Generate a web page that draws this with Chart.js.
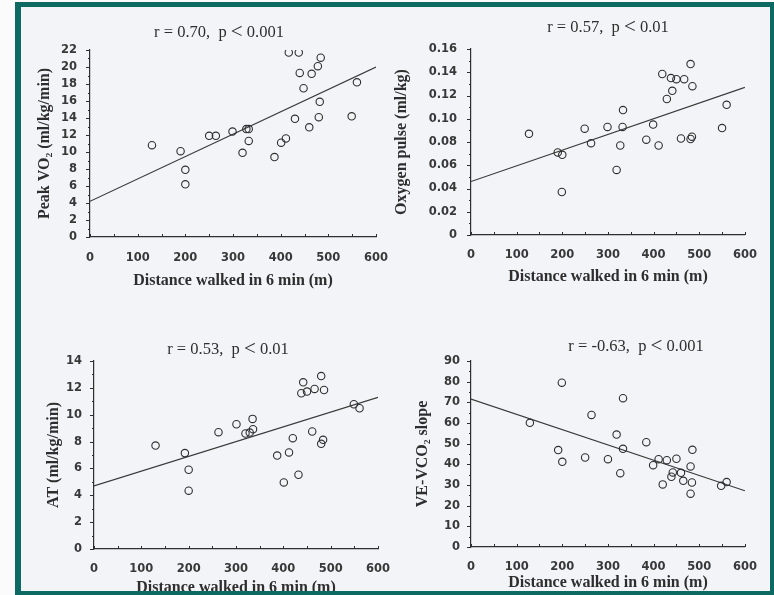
<!DOCTYPE html>
<html>
<head>
<meta charset="utf-8">
<script src="https://cdn.jsdelivr.net/npm/chart.js@4.4.1/dist/chart.umd.min.js"></script>
<style>
html, body { margin: 0; padding: 0; width: 774px; height: 595px; overflow: hidden; background: #fbfbfb; }
#bg { position: absolute; left: 15px; top: 2px; width: 759px; height: 593px; background: #f3f4f8; }
#frame { position: absolute; left: 15px; top: 2px; width: 759px; height: 593px; box-sizing: border-box;
  border: solid #0d6a62; border-width: 5px 4px 4px 6px; z-index: 5; pointer-events: none; }
canvas { position: absolute; z-index: 2; }
</style>
</head>
<body>
<div id="bg"></div>
<canvas id="c1"></canvas>
<canvas id="c2"></canvas>
<canvas id="c3"></canvas>
<canvas id="c4"></canvas>
<div id="frame"></div>
<script>
// Distance walked in 6 min vs. exercise measures, one array pair per panel
const vo2Dist = [130, 190, 200, 200, 250, 264, 299, 328, 333, 333, 320, 387, 401, 411, 417, 438, 440, 430, 448, 460, 465, 478, 484, 482, 480, 549, 560];
const vo2Peak = [10.8, 10.1, 7.9, 6.2, 11.9, 11.9, 12.4, 12.7, 12.7, 11.3, 9.9, 9.4, 11.1, 11.6, 21.7, 21.7, 19.3, 13.9, 17.5, 12.9, 19.2, 20.1, 21.1, 15.9, 14.1, 14.2, 18.2];
const vo2Fit = [4.2, 20.0];

const pulseDist = [127, 190, 200, 199, 249, 263, 299, 333, 332, 327, 319, 384, 399, 411, 419, 429, 438, 441, 450, 460, 467, 481, 485, 481, 484, 550, 560];
const pulseVal = [0.087, 0.071, 0.069, 0.037, 0.0915, 0.079, 0.093, 0.1075, 0.093, 0.077, 0.056, 0.082, 0.095, 0.077, 0.1385, 0.117, 0.135, 0.124, 0.134, 0.083, 0.134, 0.147, 0.128, 0.0826, 0.0846, 0.092, 0.112];
const pulseFit = [0.046, 0.127];

const atDist = [130, 192, 200, 200, 263, 301, 320, 329, 335, 336, 387, 401, 412, 420, 432, 442, 438, 450, 461, 466, 480, 486, 484, 480, 549, 561];
const atVal = [7.7, 7.14, 5.9, 4.34, 8.7, 9.29, 8.6, 8.67, 9.69, 8.92, 6.96, 4.96, 7.19, 8.25, 5.53, 12.41, 11.6, 11.72, 8.75, 11.92, 12.88, 11.84, 8.13, 7.83, 10.78, 10.48];
const atFit = [4.7, 11.3];

const slopeDist = [129, 191, 199, 200, 250, 264, 300, 319, 333, 333, 327, 384, 399, 411, 420, 429, 439, 442, 450, 460, 465, 481, 485, 484, 481, 548, 560];
const slopeVal = [60.1, 46.9, 79.5, 41.2, 43.3, 63.9, 42.5, 54.4, 72.0, 47.5, 35.7, 50.7, 39.6, 42.5, 30.3, 42.0, 34.0, 36.1, 42.7, 35.9, 32.0, 39.0, 47.0, 31.2, 25.8, 29.6, 31.4];
const slopeFit = [71.6, 27.2];

const fitRange = [0, 600];
const xTitle = "Distance walked in 6 min (m)";

const INK = "#2e2e2e";
const SERIF = '"Liberation Serif", "DejaVu Serif", serif';
const TICK_FONT = { family: '"DejaVu Sans", sans-serif', size: 11.5, weight: "bold" };
const TITLE_FONT = { family: SERIF, size: 16, weight: "bold" };

// Page layout for each panel (page pixels)
const panels = [
    { id: "c1", xs: vo2Dist, ys: vo2Peak, fit: vo2Fit, yMax: 22, yStep: 2,
      title: ["r = 0.70,  p", "0.001"], yTitle: "Peak VO\u2082 (ml/kg/min)",
      area: [90, 50, 376, 237], canvas: [22, 10, 416, 300],
      titlePos: [219, 33], yTitleX: 45, yLabelRight: 77, xLabelY: 258, xTitleY: 281 },
    { id: "c2", xs: pulseDist, ys: pulseVal, fit: pulseFit, yMax: 0.16, yStep: 0.02,
      title: ["r = 0.57,  p", "0.01"], yTitle: "Oxygen pulse (ml/kg)",
      area: [471, 49, 753, 235], canvas: [385, 9, 770, 300],
      titlePos: [608, 28], yTitleX: 402, yLabelRight: 457, xLabelY: 255, xTitleY: 277 },
    { id: "c3", xs: atDist, ys: atVal, fit: atFit, yMax: 14, yStep: 2,
      title: ["r = 0.53,  p", "0.01"], yTitle: "AT (ml/kg/min)",
      area: [94, 361, 378, 549], canvas: [22, 321, 416, 605],
      titlePos: [228, 350], yTitleX: 54, yLabelRight: 82, xLabelY: 569, xTitleY: 588 },
    { id: "c4", xs: slopeDist, ys: slopeVal, fit: slopeFit, yMax: 90, yStep: 10,
      title: ["r = -0.63,  p", "0.001"], yTitle: "VE-VCO\u2082 slope",
      area: [471, 361, 753, 547], canvas: [385, 321, 770, 605],
      titlePos: [636, 347], yTitleX: 423, yLabelRight: 460, xLabelY: 567, xTitleY: 583 },
];

// small inward x ticks every 50 m, outward y ticks with half-step minors
const axisTicks = {
    id: "axisTicks",
    afterDraw(chart, args, opts) {
        const { ctx } = chart;
        const xs = chart.scales.x;
        const ys = chart.scales.y;
        ctx.save();
        ctx.strokeStyle = INK;
        ctx.lineWidth = 1;
        ctx.beginPath();
        for (let v = xs.min; v <= xs.max; v += 50) {
            const px = Math.round(xs.getPixelForValue(v)) + 0.5;
            ctx.moveTo(px, xs.top);
            ctx.lineTo(px, xs.top - 3);
        }
        const n = Math.round((ys.max - ys.min) / (opts.yStep / 2));
        for (let i = 0; i <= n; i++) {
            const py = Math.round(ys.getPixelForValue(ys.min + i * opts.yStep / 2)) + 0.5;
            ctx.moveTo(ys.right, py);
            ctx.lineTo(ys.right - (i % 2 === 0 ? 4 : 2), py);
        }
        ctx.stroke();
        ctx.restore();
    },
};

// "r = ..., p < ..." with the larger less-than sign of the original
const panelTitle = {
    id: "panelTitle",
    afterDraw(chart, args, opts) {
        const { ctx } = chart;
        const small = "16.5px " + SERIF;
        const big = "21px " + SERIF;
        ctx.save();
        ctx.fillStyle = INK;
        ctx.textBaseline = "middle";
        ctx.font = small;
        const w1 = ctx.measureText(opts.text[0] + " ").width;
        const w3 = ctx.measureText(" " + opts.text[1]).width;
        ctx.font = big;
        const w2 = ctx.measureText("<").width;
        let x = opts.x - (w1 + w2 + w3) / 2;
        ctx.font = small;
        ctx.fillText(opts.text[0] + " ", x, opts.y);
        x += w1;
        ctx.font = big;
        ctx.fillText("<", x, opts.y - 0.5);
        x += w2;
        ctx.font = small;
        ctx.fillText(" " + opts.text[1], x, opts.y);
        ctx.restore();
    },
};

function makePanel(p) {
    const [aL, aT, aR, aB] = p.area;
    const [cL, cT, cR, cB] = p.canvas;
    const el = document.getElementById(p.id);
    el.width = cR - cL;
    el.height = cB - cT;
    el.style.left = cL + "px";
    el.style.top = cT + "px";
    const titleLh = TITLE_FONT.size * 1.2;
    const tickLh = TICK_FONT.size * 1.2;

    const points = p.xs.map((x, i) => ({ x, y: p.ys[i] }));
    const fitLine = fitRange.map((x, i) => ({ x, y: p.fit[i] }));

    return new Chart(el, {
        type: "scatter",
        data: {
            datasets: [
                {
                    data: points,
                    pointStyle: "circle",
                    pointRadius: 3.7,
                    pointBorderWidth: 1.1,
                    pointBorderColor: INK,
                    pointBackgroundColor: "rgba(0,0,0,0)",
                },
                {
                    type: "line",
                    data: fitLine,
                    borderColor: "#3a3a3a",
                    borderWidth: 1.2,
                    pointRadius: 0,
                    fill: false,
                },
            ],
        },
        options: {
            responsive: false,
            animation: false,
            layout: { padding: { left: 0, top: aT - cT, right: cR - aR, bottom: 0 } },
            plugins: {
                legend: { display: false },
                tooltip: { enabled: false },
                panelTitle: { text: p.title, x: p.titlePos[0] - cL, y: p.titlePos[1] - cT },
                axisTicks: { yStep: p.yStep },
            },
            scales: {
                x: {
                    type: "linear",
                    min: 0,
                    max: 600,
                    afterFit: (s) => { s.height = cB - aB; },
                    grid: { display: false, drawTicks: false },
                    border: { display: true, color: INK, width: 1.2 },
                    ticks: {
                        stepSize: 100,
                        autoSkip: false,
                        maxRotation: 0,
                        color: "#383838",
                        font: TICK_FONT,
                        padding: p.xLabelY - aB - tickLh / 2,
                    },
                    title: {
                        display: true,
                        text: xTitle,
                        color: INK,
                        font: TITLE_FONT,
                        padding: { top: 0, bottom: cB - p.xTitleY - titleLh / 2 },
                    },
                },
                y: {
                    min: 0,
                    max: p.yMax,
                    afterFit: (s) => { s.width = aL - cL; },
                    grid: { display: false, drawTicks: false },
                    border: { display: true, color: INK, width: 1.2 },
                    ticks: {
                        stepSize: p.yStep,
                        autoSkip: false,
                        color: "#383838",
                        font: TICK_FONT,
                        padding: aL - p.yLabelRight,
                        callback: (v) => (p.yStep < 1 ? (v === 0 ? "0" : v.toFixed(2)) : v),
                    },
                    title: {
                        display: true,
                        text: p.yTitle,
                        color: INK,
                        font: TITLE_FONT,
                        padding: { top: p.yTitleX - cL - titleLh / 2, bottom: 0 },
                    },
                },
            },
        },
        plugins: [axisTicks, panelTitle],
    });
}

panels.forEach(makePanel);
</script>
</body>
</html>
